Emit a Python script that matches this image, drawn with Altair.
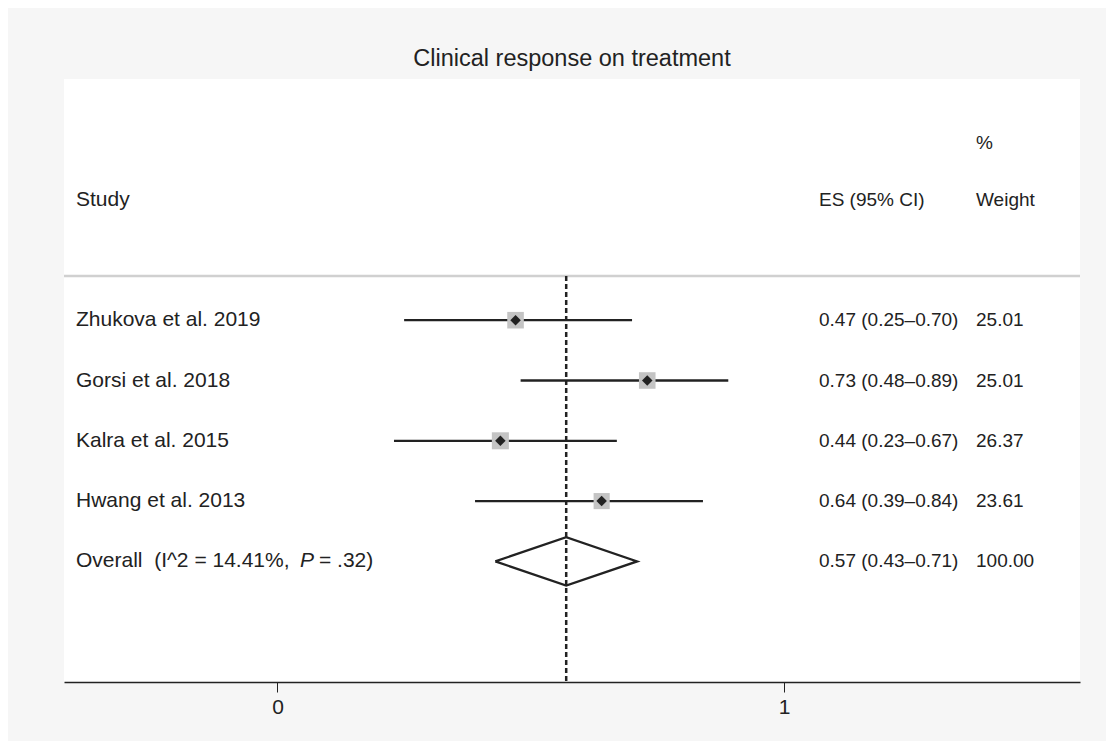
import altair as alt
import pandas as pd

# ---- data ----
studies = ["Zhukova et al. 2019", "Gorsi et al. 2018", "Kalra et al. 2015", "Hwang et al. 2013"]
es = [0.47, 0.73, 0.44, 0.64]
ci_low = [0.25, 0.48, 0.23, 0.39]
ci_high = [0.70, 0.89, 0.67, 0.84]
weights = [25.01, 25.01, 26.37, 23.61]
overall_es = 0.57
overall_low = 0.43
overall_high = 0.71
overall_weight = 100.00
overall_label_a = "Overall\u00a0 (I^2 = 14.41%, "
overall_label_p = "P"
overall_label_b = "= .32)"
title_text = "Clinical response on treatment"
header_study = "Study"
header_es = "ES (95% CI)"
header_weight = ["%", "Weight"]
x_ticks = [0, 1]

FONT = "Liberation Sans"
INK = "#222222"
W, H = 1016, 603

rows = list(range(1, len(studies) + 1))
overall_row = len(studies) + 1

df = pd.DataFrame({
    "study": studies, "es": es, "lo": ci_low, "hi": ci_high, "w": weights, "row": rows,
})
df["es_txt"] = [f"{e:.2f} ({l:.2f}–{h:.2f})" for e, l, h in zip(es, ci_low, ci_high)]
df["w_txt"] = [f"{w:.2f}" for w in weights]

ov = pd.DataFrame({
    "x": [overall_low, overall_es, overall_high, overall_es, overall_low],
    "row": [overall_row, overall_row - 0.4, overall_row, overall_row + 0.4, overall_row],
    "o": [0, 1, 2, 3, 4],
})
ov_txt = pd.DataFrame({
    "row": [overall_row],
    "es_txt": [f"{overall_es:.2f} ({overall_low:.2f}–{overall_high:.2f})"],
    "w_txt": [f"{overall_weight:.2f}"],
})
hdr_sw = pd.DataFrame({"row": [-1], "s": [header_study], "e": [header_es]})
hdr_w = pd.DataFrame({"row": [-1.94, -1], "txt": header_weight})

xs = alt.Scale(domain=[-0.4215, 1.5844], nice=False, zero=False)
ys = alt.Scale(domain=[-3, 7], reverse=True, nice=False, zero=False)
xaxis = alt.Axis(values=x_ticks, format="d", title=None, grid=False, tickSize=10, tickColor=INK,
                 tickWidth=1, domainColor=INK, domainWidth=1.5, labelFont=FONT, labelFontSize=21,
                 labelColor=INK, labelPadding=4)

base = alt.Chart(df)
Y = alt.Y("row:Q", scale=ys, axis=None)

sep = alt.Chart(pd.DataFrame({"row": [0.267]})).mark_rule(color="#d0d0d0", strokeWidth=2.5).encode(
    x=alt.value(0), x2=alt.value(W), y=alt.Y("row:Q", scale=ys, axis=None))

ref = alt.Chart(pd.DataFrame({"x": [overall_es], "r0": [0.267], "r1": [7]})).mark_rule(
    color=INK, strokeWidth=2.5, strokeDash=[5, 3]).encode(
    x=alt.X("x:Q", scale=xs, axis=xaxis), y=alt.Y("r0:Q", scale=ys, axis=None), y2="r1:Q")

ci = base.mark_rule(color=INK, strokeWidth=2.3).encode(
    x=alt.X("lo:Q", scale=xs, axis=xaxis), x2="hi:Q", y=Y)

sq = base.mark_square(color="#c4c4c4", opacity=1).encode(
    x=alt.X("es:Q", scale=xs, axis=xaxis), y=Y,
    size=alt.Size("w:Q", scale=alt.Scale(domain=[0, 100], range=[0, 1100]), legend=None))

dot = base.mark_point(shape="diamond", filled=True, color=INK, size=110, opacity=1).encode(
    x=alt.X("es:Q", scale=xs, axis=xaxis), y=Y)

dia = alt.Chart(ov).mark_line(color=INK, strokeWidth=2.3).encode(
    x=alt.X("x:Q", scale=xs, axis=xaxis), y=alt.Y("row:Q", scale=ys, axis=None), order="o:Q")

tkw = dict(font=FONT, fontSize=21, color=INK, align="left", baseline="middle")
ekw = dict(tkw, fontSize=19)
COL_S, COL_E, COL_W = 12, 755, 912

t_study = base.mark_text(**tkw).encode(x=alt.value(COL_S), y=Y, text="study:N")
t_es = base.mark_text(**ekw).encode(x=alt.value(COL_E), y=Y, text="es_txt:N")
t_w = base.mark_text(**ekw).encode(x=alt.value(COL_W), y=Y, text="w_txt:N")

ovb = alt.Chart(ov_txt)
YO = alt.Y("row:Q", scale=ys, axis=None)
t_ov_a = ovb.mark_text(text=overall_label_a, **tkw).encode(x=alt.value(COL_S), y=YO)
t_ov_p = ovb.mark_text(text=overall_label_p, fontStyle="italic", **tkw).encode(x=alt.value(COL_S + 224), y=YO)
t_ov_b = ovb.mark_text(text=overall_label_b, **tkw).encode(x=alt.value(COL_S + 243), y=YO)
t_ov_es = ovb.mark_text(**ekw).encode(x=alt.value(COL_E), y=YO, text="es_txt:N")
t_ov_w = ovb.mark_text(**ekw).encode(x=alt.value(COL_W), y=YO, text="w_txt:N")

YH = alt.Y("row:Q", scale=ys, axis=None)
hs = alt.Chart(hdr_sw)
t_hs = hs.mark_text(**tkw).encode(x=alt.value(COL_S), y=YH, text="s:N")
t_he = hs.mark_text(**ekw).encode(x=alt.value(COL_E), y=YH, text="e:N")
t_hw = alt.Chart(hdr_w).mark_text(**ekw).encode(x=alt.value(COL_W), y=YH, text="txt:N")

chart = alt.layer(
    sep, ref, ci, sq, dot, dia, t_study, t_es, t_w, t_ov_a, t_ov_p, t_ov_b, t_ov_es, t_ov_w,
    t_hs, t_he, t_hw
).properties(
    width=W, height=H,
    title=alt.TitleParams(title_text, font=FONT, fontSize=23.5, fontWeight="normal", color=INK,
                          anchor="middle", offset=9),
    autosize=alt.AutoSizeParams(type="none"),
    padding={"left": 56, "top": 71, "right": 26, "bottom": 59},
).configure(
    background="#f6f6f6",
).configure_view(fill="white", stroke=None)

chart.save("out.html", embed_options={"renderer": "svg", "actions": False})
